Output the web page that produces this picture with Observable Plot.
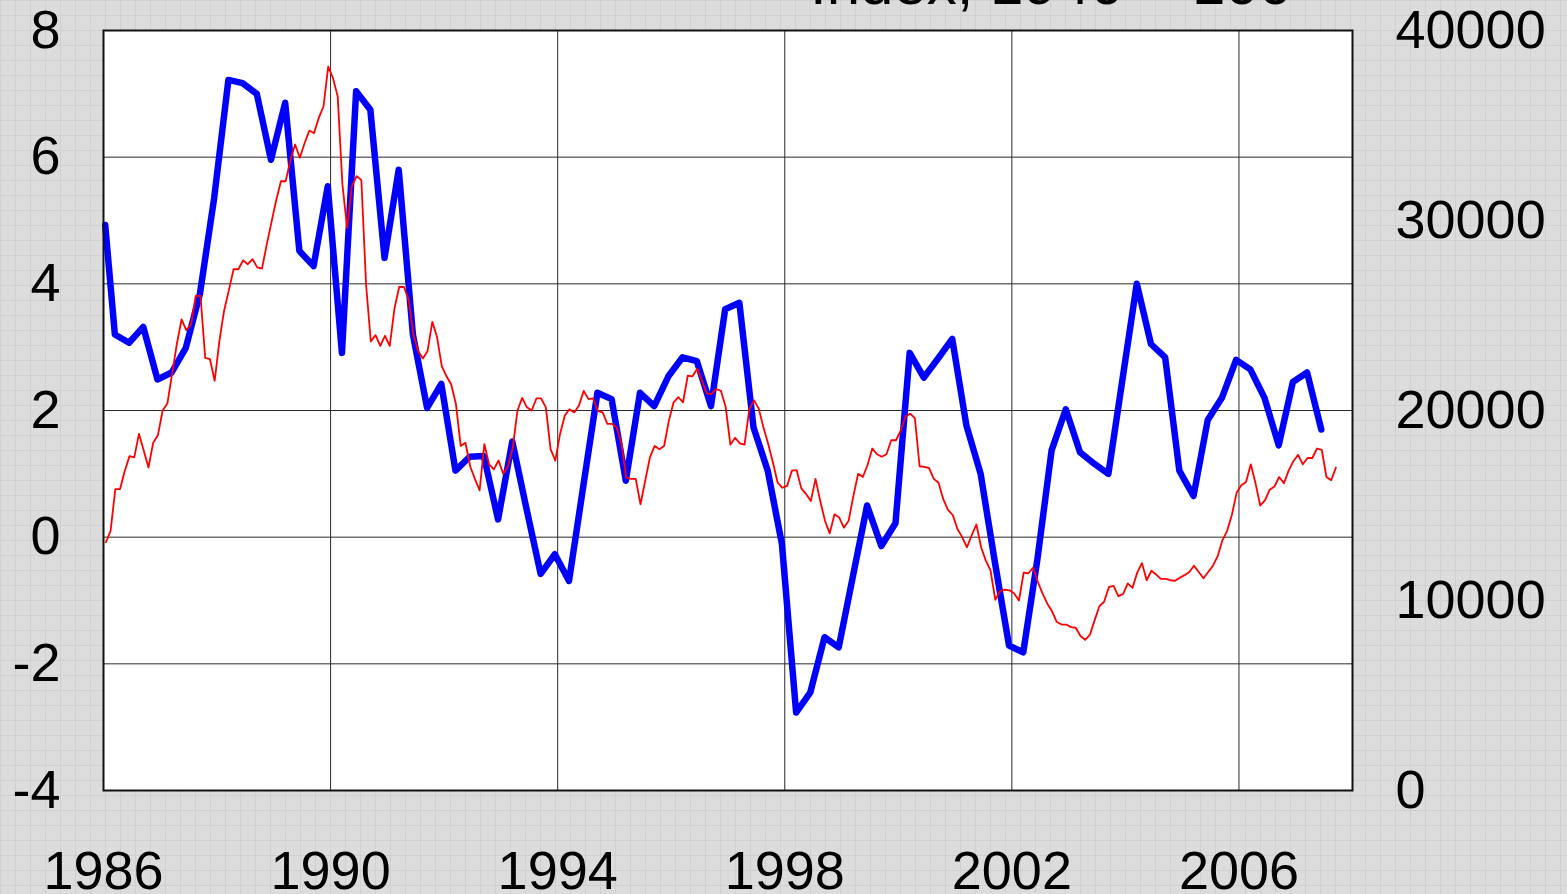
<!DOCTYPE html>
<html>
<head>
<meta charset="utf-8">
<script src="https://cdn.jsdelivr.net/npm/d3@7"></script>
<script src="https://cdn.jsdelivr.net/npm/@observablehq/plot@0.6"></script>
<style>
html, body { margin: 0; padding: 0; width: 1567px; height: 894px; overflow: hidden; }
body {
  position: relative;
  background-color: #dcdcdc;
  background-image:
    linear-gradient(#d0d0d0 1px, transparent 1px),
    linear-gradient(90deg, #d0d0d0 1px, transparent 1px);
  background-size: 15px 15px;
  font-family: "Liberation Sans", Arial, sans-serif;
}
#title { position: absolute; left: 810px; top: -46px; font-size: 60px; line-height: 1; white-space: nowrap; color: #000; }
#chart { position: absolute; left: 0; top: 0; }
</style>
</head>
<body>
<div id="title">Index, 1940 = 100</div>
<div id="chart"></div>
<script>
// Axis ticks
const xTickYears = [1986, 1990, 1994, 1998, 2002, 2006];
const leftTicks = [-4, -2, 0, 2, 4, 6, 8];
const rightTickLabels = [0, 10000, 20000, 30000, 40000];

// Blue series: quarterly, starting 1986 Q1 (left axis units)
const blueStartYear = 1986;
const blueValues = [
  4.93, 3.20, 3.07, 3.32, 2.49, 2.60, 2.99, 3.85, 5.36, 7.22,
  7.17, 7.00, 5.96, 6.86, 4.52, 4.28, 5.54, 2.91, 7.04, 6.75,
  4.41, 5.80, 3.20, 2.04, 2.42, 1.05, 1.27, 1.28, 0.28, 1.51,
  0.45, -0.58, -0.27, -0.69, 0.80, 2.28, 2.18, 0.89, 2.28, 2.07,
  2.54, 2.84, 2.78, 2.07, 3.60, 3.70, 1.73, 1.05, -0.11, -2.77,
  -2.45, -1.58, -1.74, -0.62, 0.50, -0.14, 0.22, 2.91, 2.52, 2.82,
  3.13, 1.76, 1.00, -0.39, -1.71, -1.82, -0.35, 1.37, 2.02, 1.34,
  1.16, 1.00, 2.50, 4.00, 3.05, 2.84, 1.05, 0.65, 1.85, 2.20,
  2.80, 2.65, 2.20, 1.45, 2.45, 2.60, 1.70
];

// Red series: monthly, starting January 1986 (left axis units)
const redStartYear = 1986;
const redValues = [
  -0.08, 0.10, 0.76, 0.76, 1.05, 1.28, 1.26, 1.63, 1.37, 1.10, 1.49, 1.61,
  2.00, 2.11, 2.58, 3.05, 3.44, 3.27, 3.36, 3.81, 3.81, 2.83, 2.81, 2.47,
  3.10, 3.58, 3.90, 4.23, 4.23, 4.37, 4.31, 4.39, 4.26, 4.24, 4.62, 4.97,
  5.32, 5.62, 5.62, 5.95, 6.20, 5.99, 6.22, 6.42, 6.38, 6.62, 6.80, 7.43,
  7.25, 6.96, 5.57, 4.88, 5.54, 5.70, 5.64, 3.99, 3.09, 3.19, 3.02, 3.18,
  3.02, 3.61, 3.95, 3.95, 3.75, 3.20, 2.94, 2.82, 2.94, 3.40, 3.16, 2.70,
  2.54, 2.41, 2.10, 1.44, 1.49, 1.12, 0.92, 0.74, 1.47, 1.15, 1.07, 1.21,
  1.00, 1.12, 1.41, 2.00, 2.20, 2.05, 2.00, 2.19, 2.19, 2.05, 1.39, 1.21,
  1.63, 1.92, 2.02, 1.97, 2.08, 2.31, 2.18, 2.19, 1.99, 1.97, 1.79, 1.79,
  1.73, 1.47, 0.94, 0.92, 0.92, 0.52, 0.89, 1.26, 1.44, 1.39, 1.44, 1.84,
  2.13, 2.21, 2.13, 2.55, 2.54, 2.66, 2.47, 2.27, 2.26, 2.34, 2.31, 2.06,
  1.46, 1.57, 1.48, 1.46, 2.02, 2.16, 2.03, 1.73, 1.47, 1.18, 0.86, 0.78,
  0.81, 1.05, 1.06, 0.77, 0.68, 0.57, 0.92, 0.57, 0.26, 0.06, 0.36, 0.31,
  0.15, 0.26, 0.65, 1.00, 0.95, 1.14, 1.40, 1.31, 1.27, 1.31, 1.53, 1.53,
  1.68, 1.90, 1.95, 1.88, 1.12, 1.11, 1.09, 0.92, 0.86, 0.60, 0.43, 0.35,
  0.13, 0.00, -0.16, 0.03, 0.20, -0.16, -0.37, -0.53, -0.99, -0.85, -0.83, -0.84,
  -0.89, -1.00, -0.56, -0.57, -0.48, -0.71, -0.89, -1.05, -1.17, -1.34, -1.38, -1.38,
  -1.42, -1.43, -1.56, -1.62, -1.54, -1.31, -1.09, -1.02, -0.79, -0.77, -0.93, -0.90,
  -0.73, -0.80, -0.56, -0.41, -0.68, -0.53, -0.59, -0.66, -0.66, -0.68, -0.69, -0.64,
  -0.60, -0.55, -0.45, -0.55, -0.65, -0.55, -0.45, -0.30, -0.05, 0.10, 0.35, 0.70,
  0.82, 0.87, 1.15, 0.85, 0.50, 0.58, 0.75, 0.80, 0.95, 0.85, 1.05, 1.20,
  1.30, 1.15, 1.25, 1.25, 1.40, 1.38, 0.95, 0.90, 1.10
];

// Right axis: 0..40000 spans the same height as -4..8 on the left
const leftMin = -4, leftMax = 8, rightMin = 0, rightMax = 40000;
const toLeft = v => leftMin + (v - rightMin) * (leftMax - leftMin) / (rightMax - rightMin);
const toRight = v => rightMin + (v - leftMin) * (rightMax - rightMin) / (leftMax - leftMin);

// quarterly points sit slightly before each quarter start in the reference; first point at series start
const blueData = blueValues.map((v, i) => ({x: i === 0 ? blueStartYear + 0.03 : blueStartYear + i / 4 - 0.05, y: v}));
const redData = redValues.map((v, m) => ({x: redStartYear + (m + 0.5) / 12, y: v}));

const chart = Plot.plot({
  width: 1567,
  height: 894,
  marginLeft: 103,
  marginRight: 215,
  marginTop: 30,
  marginBottom: 104,
  style: {background: "transparent", fontFamily: "'Liberation Sans', Arial, sans-serif", fontSize: "54px", color: "#000", overflow: "visible"},
  x: {domain: [1986, 2008]},
  y: {domain: [leftMin, leftMax]},
  marks: [
    Plot.frame({fill: "white", stroke: null}),
    Plot.ruleY(leftTicks.filter(v => v > leftMin && v < leftMax), {stroke: "#2a2a2a", strokeWidth: 1}),
    Plot.ruleX(xTickYears.filter(v => v > 1986), {stroke: "#2a2a2a", strokeWidth: 1}),
    Plot.line(blueData, {x: "x", y: "y", stroke: "#0000ff", strokeWidth: 6.5, strokeLinejoin: "round"}),
    Plot.line(redData, {x: "x", y: "y", stroke: "#ff0000", strokeWidth: 1.8, strokeLinejoin: "round"}),
    Plot.frame({stroke: "#111", strokeWidth: 2}),
    Plot.axisX(xTickYears, {tickFormat: d => String(d), tickSize: 0, tickPadding: 60, fontSize: 54, label: null}),
    Plot.axisY(leftTicks, {anchor: "left", tickFormat: d => String(d), tickSize: 0, tickPadding: 43, fontSize: 54, label: null}),
    Plot.axisY(rightTickLabels.map(toLeft), {anchor: "right", tickFormat: d => String(Math.round(toRight(d))), tickSize: 0, tickPadding: 43, fontSize: 54, label: null})
  ]
});
document.getElementById("chart").appendChild(chart);
</script>
</body>
</html>
